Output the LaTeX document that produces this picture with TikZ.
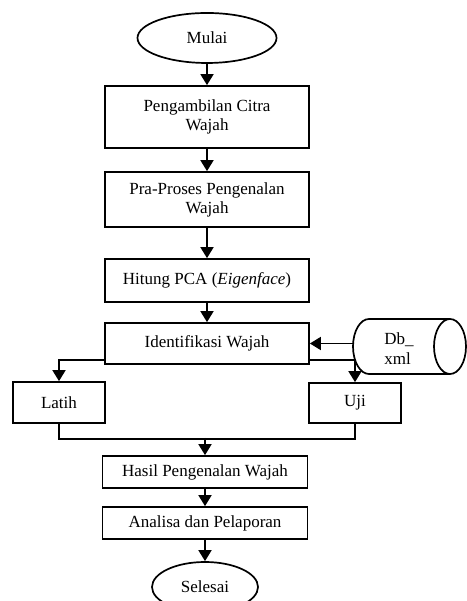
\documentclass[tikz,border=0pt]{standalone}
\usepackage{fontspec}
\setmainfont{Liberation Serif}
\usetikzlibrary{arrows.meta,shapes.geometric}
\begin{document}
\begin{tikzpicture}[x=1pt,y=1pt,
  font=\fontsize{17}{19}\selectfont,
  line width=1.7pt,
  proc/.style={draw, rectangle, align=center, inner sep=0pt},
  term/.style={draw, ellipse, inner sep=0pt},
  arr/.style={-{Triangle[length=11pt,width=13pt]}}
]
\useasboundingbox (0,0) rectangle (466,601);
\node[term, minimum width=139pt, minimum height=50pt] (mulai) at (207,563) {Mulai};
\node[proc, minimum width=204pt, minimum height=62pt] (b1) at (207,484) {Pengambilan Citra\\Wajah};
\node[proc, minimum width=204pt, minimum height=55pt] (b2) at (207,401.5) {Pra-Proses Pengenalan\\Wajah};
\node[proc, minimum width=204pt, minimum height=43pt] (b3) at (207,320.5) {Hitung PCA (\textit{Eigenface})};
\node[proc, minimum width=204pt, minimum height=41pt] (b4) at (207,257.5) {Identifikasi Wajah};
\node[proc, minimum width=92pt, minimum height=41pt] (latih) at (59,198.5) {Latih};
\node[proc, minimum width=92pt, minimum height=40pt] (uji) at (355,198) {Uji};
\node[proc, minimum width=205pt, minimum height=32pt] (hasil) at (205,129) {Hasil Pengenalan Wajah};
\node[proc, minimum width=205pt, minimum height=32pt] (analisa) at (205,78) {Analisa dan Pelaporan};
\node[term, minimum width=106pt, minimum height=50pt] (selesai) at (205,14) {Selesai};
% database cylinder
\draw (450,282) -- (369,282) arc[start angle=90, end angle=270, x radius=16pt, y radius=27.5pt] -- (450,227);
\draw (450,254.5) ellipse [x radius=16pt, y radius=27.5pt];
\node[align=left, inner sep=0pt, font=\fontsize{17}{20}\selectfont] (db) at (399,252) {Db\_\\xml};
\coordinate (dbw) at (353,257.5);
% connectors
\draw[arr] (mulai) -- (b1);
\draw[arr] (b1) -- (b2);
\draw[arr] (b2) -- (b3);
\draw[arr] (b3) -- (b4);
\draw[arr] (dbw) -- (b4.east);
\draw[arr] ([yshift=5pt]b4.south west) -| (latih.north);
\draw[arr] ([yshift=5pt]b4.south east) -| (uji.north);
\draw (latih.south) -- ++(0,-15) -| (uji.south);
\coordinate (join) at (205,163);
\draw[arr] (join) -- (hasil.north);
\draw[arr] (hasil) -- (analisa);
\draw[arr] (analisa) -- (selesai);
\end{tikzpicture}
\end{document}
